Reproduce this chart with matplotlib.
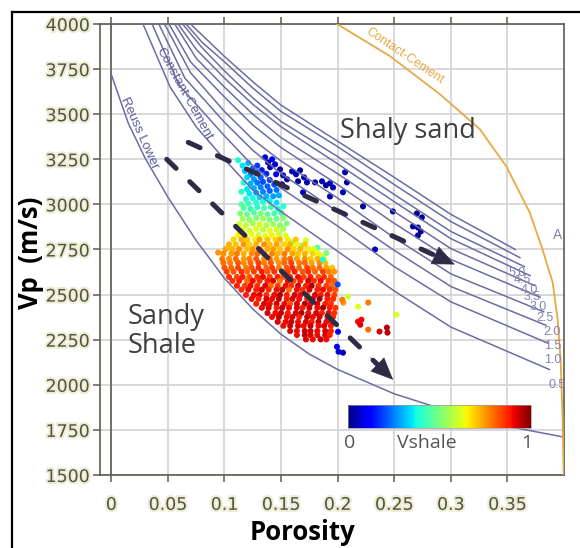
import numpy as np
import matplotlib
matplotlib.use("Agg")
import matplotlib.pyplot as plt
from matplotlib import patheffects as pe
from matplotlib.patches import FancyArrowPatch
from matplotlib.lines import Line2D

# ---------------- data ----------------
x_ticks = [0, 0.05, 0.1, 0.15, 0.2, 0.25, 0.3, 0.35]
x_tick_labels = ["0", "0.05", "0.1", "0.15", "0.2", "0.25", "0.3", "0.35"]
y_ticks = [1500, 1750, 2000, 2250, 2500, 2750, 3000, 3250, 3500, 3750, 4000]

reuss_phi = [0, 0.015, 0.03, 0.05, 0.075, 0.1, 0.125, 0.15, 0.175, 0.2, 0.25, 0.3, 0.35, 0.4]
reuss_vp = [3720, 3450, 3255, 3040, 2800, 2590, 2420, 2280, 2170, 2085, 1950, 1850, 1770, 1710]

contact_phi = [0.1994, 0.2462, 0.2903, 0.3256, 0.349, 0.3697, 0.381, 0.390, 0.3944, 0.397, 0.3988, 0.3997]
contact_vp = [4000, 3822, 3611, 3417, 3211, 2956, 2750, 2567, 2361, 2139, 1806, 1500]

cc_labels = ["0.5", "1.0", "1.5", "2.0", "2.5", "3.0", "3.5", "4.0", "4.5", "5.0"]
cc_phi = [
    [0.028, 0.052, 0.075, 0.1, 0.125, 0.15, 0.2, 0.25, 0.3, 0.387],
    [0.036, 0.06, 0.08, 0.1, 0.125, 0.15, 0.2, 0.25, 0.3, 0.386],
    [0.042, 0.065, 0.1, 0.125, 0.15, 0.2, 0.25, 0.3, 0.384],
    [0.047, 0.07, 0.1, 0.125, 0.15, 0.2, 0.25, 0.3, 0.382],
    [0.051, 0.07, 0.1, 0.125, 0.15, 0.2, 0.25, 0.3, 0.379],
    [0.056, 0.075, 0.1, 0.125, 0.15, 0.2, 0.25, 0.3, 0.374],
    [0.059, 0.075, 0.1, 0.125, 0.15, 0.2, 0.25, 0.3, 0.370],
    [0.063, 0.08, 0.1, 0.125, 0.15, 0.2, 0.25, 0.3, 0.365],
    [0.066, 0.08, 0.1, 0.125, 0.15, 0.2, 0.25, 0.3, 0.361],
    [0.070, 0.1, 0.125, 0.15, 0.2, 0.25, 0.3, 0.357],
]
cc_vp = [
    [4000, 3650, 3430, 3250, 3080, 2960, 2740, 2520, 2320, 2085],
    [4000, 3660, 3520, 3380, 3215, 3090, 2880, 2655, 2460, 2230],
    [4000, 3700, 3455, 3300, 3170, 2960, 2745, 2545, 2330],
    [4000, 3730, 3515, 3360, 3240, 3035, 2815, 2615, 2405],
    [4000, 3790, 3595, 3440, 3315, 3110, 2895, 2695, 2485],
    [4000, 3810, 3650, 3500, 3370, 3170, 2960, 2755, 2550],
    [4000, 3860, 3700, 3555, 3430, 3225, 3015, 2810, 2605],
    [4000, 3870, 3740, 3590, 3460, 3265, 3055, 2850, 2655],
    [4000, 3900, 3790, 3645, 3515, 3320, 3110, 2905, 2705],
    [4000, 3820, 3680, 3550, 3350, 3150, 2945, 2750],
]
cc_label_phi = [0.3935, 0.390, 0.390, 0.389, 0.383, 0.377, 0.372, 0.369, 0.363, 0.359]
cc_label_vp = [1998, 2139, 2217, 2294, 2372, 2433, 2489, 2528, 2583, 2622]

# clean-sand points (Vshale ~ 0)
blue_phi = [.1359, .1385, .1421, .1403, .1447, .1491, .1456, .1518, .1553, .1509, .1597, .1632, .1668,
            .1703, .1650, .1729, .1800, .1862, .1897, .1932, .1959, .2065, .2082, .2047, .1694, .1932,
            .2224, .2488, .2700, .2744, .2665, .2709, .2735, .2709, .2330, .2003, .1994, .2008, .2047]
blue_vp = [3261, 3233, 3250, 3206, 3222, 3194, 3167, 3161, 3139, 3111, 3183, 3167, 3189,
           3150, 3128, 3122, 3122, 3128, 3106, 3117, 3094, 3178, 3122, 3067, 3067, 3044,
           2989, 2961, 2950, 2928, 2878, 2872, 2850, 2828, 2750, 2294, 2211, 2183, 2178]
blue_vsh = [.08, .05, .1, .04, .07, .03, .09, .05, .02, .08, .04, .06, .03,
            .05, .02, .04, .03, .06, .02, .05, .04, .03, .02, .05, .07, .04,
            .03, .02, .01, .03, .02, .04, .02, .03, .06, .1, .12, .08, .06]

# blue / cyan stem
stem_phi = [.112, .116, .121, .118, .125, .129, .123, .128, .133, .137, .132, .126, .120, .117, .123,
            .129, .134, .140, .144, .138, .132, .126, .120, .115, .122, .128, .134, .140, .146, .137,
            .131, .125, .119, .143, .148, .128, .134, .140, .121, .146, .115]
stem_vp = [3245, 3215, 3230, 3185, 3200, 3215, 3165, 3175, 3190, 3170, 3150, 3140, 3150, 3120, 3115,
           3120, 3125, 3135, 3110, 3100, 3095, 3090, 3085, 3070, 3060, 3065, 3070, 3075, 3080, 3045,
           3040, 3035, 3030, 3045, 3050, 3010, 3015, 3020, 3005, 3010, 3000]
stem_vsh = [.38, .35, .30, .32, .22, .18, .25, .20, .15, .16, .22, .28, .33, .38, .30,
            .24, .20, .18, .20, .22, .25, .30, .35, .40, .35, .28, .25, .22, .24, .30,
            .33, .38, .40, .28, .30, .40, .38, .36, .42, .34, .45]

# green / yellow band
band_phi = [.117, .123, .129, .135, .141, .147, .152,
            .114, .120, .126, .132, .138, .144, .150,
            .116, .122, .128, .134, .140, .146, .152,
            .113, .119, .125, .131, .137, .143, .149, .155,
            .116, .122, .128, .134, .140, .146, .152,
            .112, .118, .124, .130, .136, .142, .148, .154,
            .160, .168, .175, .182, .190, .172, .185, .165, .187]
band_vp = [2980, 2975, 2985, 2980, 2985, 2975, 2990,
           2950, 2945, 2955, 2950, 2945, 2950, 2955,
           2920, 2915, 2925, 2920, 2915, 2920, 2925,
           2890, 2885, 2895, 2890, 2885, 2890, 2885, 2895,
           2860, 2855, 2865, 2860, 2855, 2860, 2865,
           2830, 2825, 2835, 2830, 2825, 2830, 2835, 2828,
           2790, 2770, 2745, 2760, 2730, 2800, 2715, 2710, 2694]
band_vsh = [.45, .42, .40, .44, .42, .38, .40,
            .50, .48, .45, .50, .47, .44, .42,
            .55, .52, .50, .55, .50, .48, .52,
            .60, .58, .55, .60, .56, .55, .52, .50,
            .62, .60, .62, .58, .62, .60, .55,
            .65, .62, .64, .60, .63, .65, .60, .62,
            .55, .50, .58, .45, .50, .62, .60, .62, .38]

# main shaly cluster, rows of (nearly) constant Vp
blob_rows = [
    (2805, [.108, .115, .120, .127, .131, .138, .145, .149, .156, .163],
           [.68, .72, .70, .66, .74, .70, .68, .72, .66, .70]),
    (2778, [.104, .110, .117, .122, .128, .135, .140, .146, .153, .158, .164, .171],
           [.72, .70, .75, .68, .72, .76, .70, .74, .68, .72, .65, .70]),
    (2752, [.101, .107, .113, .120, .125, .131, .138, .143, .149, .156, .161, .167, .174, .179],
           [.74, .72, .76, .70, .75, .78, .72, .74, .70, .76, .68, .72, .66, .62]),
    (2727, [.099, .106, .111, .117, .124, .129, .135, .142, .147, .153, .160, .165, .171, .178, .183],
           [.76, .74, .78, .72, .76, .80, .74, .77, .72, .78, .74, .70, .72, .68, .65]),
    (2698, [.098, .104, .110, .117, .122, .128, .135, .140, .146, .153, .158, .164, .171, .176, .182, .188],
           [.78, .76, .80, .74, .78, .82, .76, .80, .74, .78, .80, .74, .76, .70, .72, .66]),
    (2676, [.099, .105, .112, .117, .123, .130, .135, .141, .148, .153, .159, .166, .171, .177, .184, .189],
           [.80, .78, .82, .76, .80, .84, .78, .82, .76, .80, .84, .78, .80, .74, .76, .70]),
    (2649, [.100, .106, .112, .119, .124, .130, .137, .142, .148, .155, .160, .166, .173, .178, .184, .190, .195],
           [.82, .80, .84, .78, .82, .86, .80, .84, .78, .82, .86, .80, .84, .78, .80, .74, .70]),
    (2627, [.102, .108, .115, .120, .126, .133, .138, .144, .151, .156, .162, .169, .174, .180, .187, .192, .197],
           [.84, .82, .86, .80, .84, .88, .82, .86, .80, .84, .88, .82, .86, .80, .84, .78, .75]),
    (2598, [.104, .111, .116, .122, .129, .134, .140, .147, .152, .158, .165, .170, .176, .183, .188, .194],
           [.86, .84, .88, .82, .86, .90, .84, .88, .82, .86, .90, .84, .88, .82, .86, .80]),
    (2576, [.107, .113, .120, .125, .131, .138, .143, .149, .156, .161, .167, .174, .179, .185, .192, .197],
           [.86, .88, .80, .90, .86, .88, .92, .78, .90, .84, .88, .92, .86, .90, .84, .82]),
    (2549, [.111, .118, .123, .129, .136, .141, .147, .154, .159, .165, .172, .177, .183, .190, .195],
           [.88, .84, .90, .86, .92, .80, .84, .90, .86, .92, .88, .97, .86, .84, .80]),
    (2527, [.115, .121, .128, .133, .139, .146, .151, .157, .164, .169, .175, .182, .187, .193, .198],
           [.86, .90, .88, .92, .86, .90, .94, .80, .90, .86, .92, .88, .90, .86, .82]),
    (2498, [.119, .126, .131, .137, .144, .149, .155, .162, .167, .173, .180, .185, .191, .197],
           [.88, .90, .92, .86, .90, .97, .88, .92, .90, .82, .92, .88, .90, .84]),
    (2476, [.124, .130, .137, .142, .148, .155, .160, .166, .173, .178, .184, .191, .196],
           [.90, .88, .92, .90, .94, .88, .92, .90, .86, .92, .97, .88, .86]),
    (2449, [.128, .135, .140, .146, .153, .158, .164, .171, .176, .182, .189, .194],
           [.88, .92, .90, .94, .90, .82, .92, .96, .90, .92, .88, .86]),
    (2427, [.133, .139, .146, .151, .157, .164, .169, .175, .182, .187, .193, .198],
           [.90, .92, .88, .94, .90, .92, .88, .94, .90, .97, .88, .85]),
    (2398, [.138, .145, .150, .156, .163, .168, .174, .181, .186, .192, .197],
           [.92, .90, .94, .88, .92, .96, .90, .92, .88, .90, .86]),
    (2376, [.142, .148, .155, .160, .166, .173, .178, .184, .191, .196],
           [.90, .94, .90, .92, .88, .94, .90, .92, .88, .86]),
    (2349, [.147, .154, .159, .165, .172, .177, .183, .190, .195],
           [.92, .90, .94, .90, .92, .88, .94, .90, .88]),
    (2327, [.152, .158, .165, .170, .176, .183, .188, .194],
           [.90, .94, .92, .90, .94, .90, .92, .88]),
    (2298, [.158, .164, .171, .176, .182, .189, .194],
           [.92, .90, .94, .92, .90, .92, .88]),
    (2276, [.164, .171, .176, .182, .189, .193],
           [.90, .94, .92, .90, .92, .88]),
    (2252, [.172, .178, .185, .190],
           [.92, .90, .94, .90]),
]

# scattered points around the cluster
out_phi = [.0944, .103, .209, .205, .227, .252, .218, .220, .227, .237, .2435, .244, .204, .218, .221, .187, .200]
out_vp = [2733, 2760, 2489, 2456, 2456, 2389, 2350, 2333, 2306, 2295, 2317, 2289, 2472, 2433, 2361, 2694, 2556]
out_vsh = [.75, .72, .60, .75, .78, .62, .90, .92, .80, .92, .95, .95, .78, .62, .90, .38, .20]

arrow1_start, arrow1_end = (0.068, 3344), (0.3035, 2667)
arrow2_start, arrow2_end = (0.049, 3250), (0.249, 2028)

# ---------------- assemble scatter ----------------
pts_phi = list(blue_phi) + list(stem_phi) + list(band_phi)
pts_vp = list(blue_vp) + list(stem_vp) + list(band_vp)
pts_vsh = list(blue_vsh) + list(stem_vsh) + list(band_vsh)
for vp_row, phis, vshs in blob_rows:
    pts_phi += phis
    pts_vp += [vp_row] * len(phis)
    pts_vsh += vshs
pts_phi += out_phi
pts_vp += out_vp
pts_vsh += out_vsh

# ---------------- figure ----------------
W, H = 580, 548
fig = plt.figure(figsize=(W / 100, H / 100), dpi=100)
fig.patch.set_facecolor("white")
ax = fig.add_axes([100 / W, 1 - 475 / H, 464 / W, 451 / H])

spine_c = "#5b5b50"
curve_c = "#6c6ca4"
ax.set_xlim(-0.01, 0.4)
ax.set_ylim(1500, 4000)
ax.set_xticks(x_ticks)
ax.set_xticklabels(x_tick_labels)
ax.set_yticks(y_ticks)
ax.grid(True, color="#d6d6d6", lw=1.3, zorder=0)
ax.set_axisbelow(True)
ax.axvline(0, color=spine_c, lw=1.2, zorder=1)
for s in ax.spines.values():
    s.set_color(spine_c)
    s.set_linewidth(1.2)
ax.tick_params(axis="both", direction="out", length=5, width=1.1, color=spine_c,
               labelsize=12.5, labelcolor="#54543c")
ax.tick_params(axis="x", pad=10, top=True)
ax.tick_params(axis="y", pad=2.5)
for lab in ax.get_xticklabels() + ax.get_yticklabels():
    lab.set_fontfamily("DejaVu Sans")
    lab.set_path_effects([pe.withStroke(linewidth=3, foreground="#ecedd6")])

sc = ax.scatter(pts_phi, pts_vp, c=pts_vsh, cmap="jet", vmin=0, vmax=1, s=19,
                linewidths=0, zorder=2)

ax.plot(reuss_phi, reuss_vp, color=curve_c, lw=1.1, zorder=3)
for phis, vps in zip(cc_phi, cc_vp):
    ax.plot(phis, vps, color=curve_c, lw=1.1, zorder=3)
ax.plot(contact_phi, contact_vp, color="#e6aa45", lw=1.3, zorder=3)

for lab, lx, ly in zip(cc_labels, cc_label_phi, cc_label_vp):
    ax.text(lx, ly, lab, color="#8282b2", fontsize=9, ha="center", va="center",
            family="Liberation Sans", zorder=4)

ax.text(0.0644, 3611, "Constant-Cement", rotation=-61, color="#5c5c98", fontsize=9.5,
        ha="center", va="center", family="Liberation Sans", zorder=4)
ax.text(0.0247, 3394, "Reuss Lower", rotation=-66, color="#5c5c98", fontsize=9.5,
        ha="center", va="center", family="Liberation Sans", zorder=4)
ax.text(0.2594, 3822, "Contact-Cement", rotation=-34, color="#e6aa45", fontsize=9,
        ha="center", va="center", family="Liberation Sans", zorder=4)
ax.text(0.3945, 2833, "A", color="#8282b2", fontsize=10, ha="center", va="center",
        family="Liberation Sans", zorder=4, clip_on=True)

ax.text(0.262, 3406, "Shaly sand", fontsize=19.5, color="#3f3f3f", ha="center", va="center",
        family="Open Sans", zorder=4)
ax.text(0.014, 2295, "Sandy\nShale", fontsize=19.5, color="#3f3f3f", ha="left", va="center",
        family="Open Sans", linespacing=1.05, zorder=4)

arrow_c = "#2f2b46"
for (x0, y0), (x1, y1) in [(arrow1_start, arrow1_end), (arrow2_start, arrow2_end)]:
    xm = x0 + 0.93 * (x1 - x0)
    ym = y0 + 0.93 * (y1 - y0)
    ax.plot([x0, xm], [y0, ym], color=arrow_c, lw=3.6, linestyle=(0, (2.6, 3.8)),
            dash_capstyle="round", zorder=5)
    xh = x0 + 0.9 * (x1 - x0)
    yh = y0 + 0.9 * (y1 - y0)
    ax.add_patch(FancyArrowPatch((xh, yh), (x1, y1),
                                 arrowstyle="-|>,head_length=0.75,head_width=0.33",
                                 mutation_scale=20, color=arrow_c, lw=0.5, zorder=6,
                                 shrinkA=0, shrinkB=0))

# colour bar inset
cax = fig.add_axes([348 / W, 1 - 428 / H, 183 / W, 23 / H])
cb = fig.colorbar(sc, cax=cax, orientation="horizontal")
cb.set_ticks([])
cb.outline.set_edgecolor("#9a9a9a")
cb.outline.set_linewidth(0.5)
for txt, px in [("0", 350), ("Vshale", 427), ("1", 527)]:
    fig.text(px / W, 1 - 443 / H, txt, fontsize=14, color="#555555", ha="center",
             va="center", family="Open Sans")

# axis titles
fig.text(31 / W, 1 - 253 / H, "Vp  (m/s)", rotation=90, fontsize=18.5, fontweight="bold",
         family="Open Sans", ha="center", va="center", color="black")
fig.text(303 / W, 1 - 532 / H, "Porosity", fontsize=18.5, fontweight="bold",
         family="Open Sans", ha="center", va="center", color="black")

# outer frame
fig.add_artist(Line2D([12 / W, 12 / W], [0, 1 - 12 / H], transform=fig.transFigure,
                      color="black", lw=1.6))
fig.add_artist(Line2D([12 / W, 1], [1 - 12 / H, 1 - 12 / H], transform=fig.transFigure,
                      color="black", lw=1.6))

fig.savefig("out.png", dpi=100)
